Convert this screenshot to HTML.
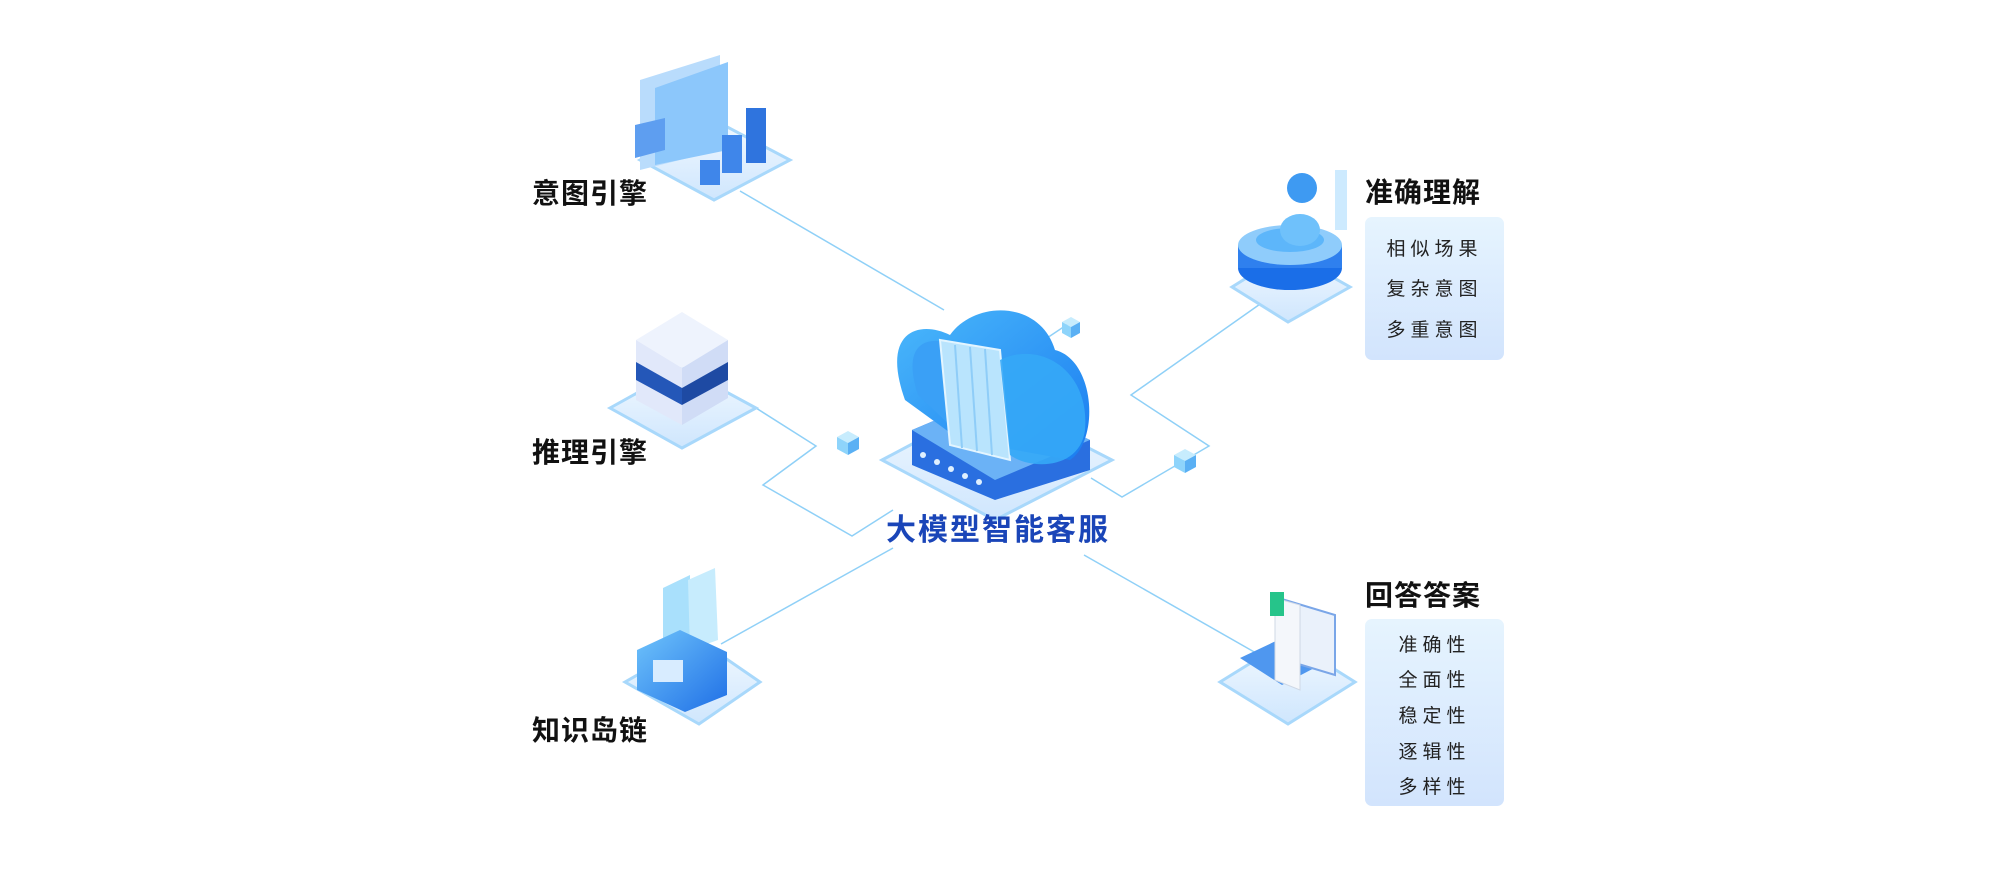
<!DOCTYPE html>
<html><head><meta charset="utf-8"><style>
html,body{margin:0;padding:0;background:#fff;}
body{width:2000px;height:890px;position:relative;overflow:hidden;font-family:"Liberation Sans","Noto Sans CJK SC",sans-serif;}
.t{position:absolute;font-weight:bold;font-size:28px;color:#111;letter-spacing:1px;white-space:nowrap;}
.box{position:absolute;background:linear-gradient(180deg,#e6f4fe,#d2e4fd);border-radius:7px;}
.box div{position:absolute;left:0;right:0;text-align:center;font-size:19px;color:#222;letter-spacing:5px;}
</style></head><body>
<svg width="2000" height="890" viewBox="0 0 2000 890" style="position:absolute;left:0;top:0">
<defs>
<linearGradient id="pl" x1="0" y1="0" x2="0" y2="1"><stop offset="0" stop-color="#f2f9ff"/><stop offset="1" stop-color="#cfe6fd"/></linearGradient>
<linearGradient id="bl" x1="0" y1="0" x2="1" y2="1"><stop offset="0" stop-color="#6fc4fb"/><stop offset="1" stop-color="#1f6fe6"/></linearGradient>
<linearGradient id="cl" x1="0" y1="0" x2="1" y2="1"><stop offset="0" stop-color="#4ab8fb"/><stop offset="1" stop-color="#1a7cf0"/></linearGradient>
</defs>
<g stroke="#8fd0f7" stroke-width="1.5" fill="none">
<polyline points="740,191 944,310"/>
<polyline points="756,408 816,446 763,485 852,536 893,510"/>
<polyline points="721,644 893,548"/>
<polyline points="1263,302 1131,395 1209,446 1122,497 1091,478"/>
<polyline points="1084,555 1256,653"/>
<polyline points="1044,340 1071,322"/>
</g>
<!-- platforms -->
<g fill="url(#pl)" stroke="#a8d8fb" stroke-width="3">
<polygon points="640,160 714,120 790,160 714,200"/>
<polygon points="610,408 682,368 756,408 682,448"/>
<polygon points="625,682 699,640 760,682 699,724"/>
<polygon points="1232,287 1288,252 1350,287 1288,322"/>
<polygon points="1220,682 1288,640 1355,682 1288,724"/>
<polygon points="882,460 995,400 1112,460 995,520"/>
</g>
<!-- 意图 icon -->
<polygon points="640,80 720,55 720,150 640,170" fill="#b9dcfc"/>
<polygon points="655,88 728,62 728,150 655,165" fill="#8cc7fb"/>
<polygon points="635,125 665,118 665,150 635,158" fill="#5e9ef0"/>
<rect x="700" y="160" width="20" height="25" fill="#3f86ea"/><rect x="722" y="135" width="20" height="38" fill="#3f86ea"/><rect x="746" y="108" width="20" height="55" fill="#2f74de"/>
<!-- 推理 icon -->
<polygon points="636,340 682,312 728,340 682,368" fill="#eef3fd"/>
<polygon points="636,340 682,368 682,425 636,400" fill="#e1e8fa"/>
<polygon points="682,368 728,340 728,398 682,425" fill="#d0dcf6"/>
<polygon points="636,362 682,388 682,405 636,380" fill="#2457b8"/>
<polygon points="682,388 728,362 728,380 682,405" fill="#1e4aa3"/>
<!-- 知识 icon -->
<polygon points="663,588 690,575 690,640 663,650" fill="#a9e0fc"/>
<polygon points="688,580 715,568 718,640 690,650" fill="#c7ecfd"/>
<polygon points="637,650 680,630 727,652 727,695 685,712 637,690" fill="url(#bl)"/>
<rect x="653" y="660" width="30" height="22" fill="#d8ecff"/>
<!-- 准确 icon -->
<ellipse cx="1290" cy="268" rx="52" ry="22" fill="#1a6ee8"/>
<rect x="1238" y="245" width="104" height="23" fill="#2f80ee"/>
<ellipse cx="1290" cy="245" rx="52" ry="20" fill="#8fccfb"/>
<ellipse cx="1290" cy="240" rx="34" ry="12" fill="#5db6fa"/>
<ellipse cx="1300" cy="230" rx="20" ry="16" fill="#6fc1fb"/>
<circle cx="1302" cy="188" r="15" fill="#3e9af2"/>
<rect x="1335" y="170" width="12" height="60" fill="#cdeafe"/>
<!-- 回答 icon -->
<polygon points="1240,658 1278,640 1320,665 1282,685" fill="#4f97ef"/>
<polygon points="1285,600 1335,615 1335,675 1285,660" fill="#eaf1fb" stroke="#7aa6e8" stroke-width="2"/>
<polygon points="1275,598 1300,605 1300,690 1275,680" fill="#f4f7fb" stroke="#cfd8e6"/>
<rect x="1270" y="592" width="14" height="24" fill="#26c48a"/>
<!-- cloud -->
<polygon points="912,430 995,395 1090,440 1090,470 995,500 912,465" fill="#2a6fe0"/>
<polygon points="912,430 995,395 1090,440 995,480" fill="#6bb2f6"/>
<g fill="#dff0ff"><circle cx="923" cy="455" r="3"/><circle cx="937" cy="462" r="3"/><circle cx="951" cy="469" r="3"/><circle cx="965" cy="476" r="3"/><circle cx="979" cy="482" r="3"/></g>
<path d="M905,400 C880,330 920,320 950,335 C975,300 1040,300 1055,350 C1095,360 1100,440 1070,460 L960,440 Z" fill="url(#cl)"/>
<path d="M918,395 C900,340 930,335 955,345 C965,360 960,420 955,430 Z" fill="#3aa0f6"/>
<polygon points="940,340 1000,350 1010,460 950,445" fill="#b9e4fd" stroke="#e3f5ff" stroke-width="2"/>
<g stroke="#8fcdf8" stroke-width="2"><line x1="955" y1="345" x2="962" y2="448"/><line x1="970" y1="347" x2="977" y2="451"/><line x1="985" y1="349" x2="992" y2="455"/></g>
<path d="M1000,360 C1040,340 1090,370 1085,430 C1080,470 1030,470 1010,455 Z" fill="#35a8f7" opacity="0.9"/>
<!-- small cubes -->
<g><polygon points="1062,322 1071,317 1080,322 1071,327" fill="#c7ecfd"/><polygon points="1062,322 1071,327 1071,338 1062,333" fill="#8ed4fb"/><polygon points="1071,327 1080,322 1080,333 1071,338" fill="#5ab0f4"/></g>
<g><polygon points="837,437 848,431 859,437 848,443" fill="#c7ecfd"/><polygon points="837,437 848,443 848,455 837,449" fill="#8ed4fb"/><polygon points="848,443 859,437 859,449 848,455" fill="#5ab0f4"/></g>
<g><polygon points="1174,455 1185,449 1196,455 1185,461" fill="#c7ecfd"/><polygon points="1174,455 1185,461 1185,473 1174,467" fill="#8ed4fb"/><polygon points="1185,461 1196,455 1196,467 1185,473" fill="#5ab0f4"/></g>
</svg>
<div class="t" style="left:532px;top:172px">意图引擎</div>
<div class="t" style="left:532px;top:431px">推理引擎</div>
<div class="t" style="left:532px;top:709px">知识岛链</div>
<div class="t" style="left:1365px;top:171px">准确理解</div>
<div class="t" style="left:1365px;top:574px">回答答案</div>
<div class="t" style="left:886px;top:505px;font-size:30px;color:#1a45b8;letter-spacing:2px">大模型智能客服</div>
<div class="box" style="left:1365px;top:217px;width:139px;height:143px">
<div style="top:17px">相似场果</div><div style="top:57px">复杂意图</div><div style="top:98px">多重意图</div></div>
<div class="box" style="left:1365px;top:619px;width:139px;height:187px">
<div style="top:11px">准确性</div><div style="top:46px">全面性</div><div style="top:82px">稳定性</div><div style="top:118px">逐辑性</div><div style="top:153px">多样性</div></div>
</body></html>
